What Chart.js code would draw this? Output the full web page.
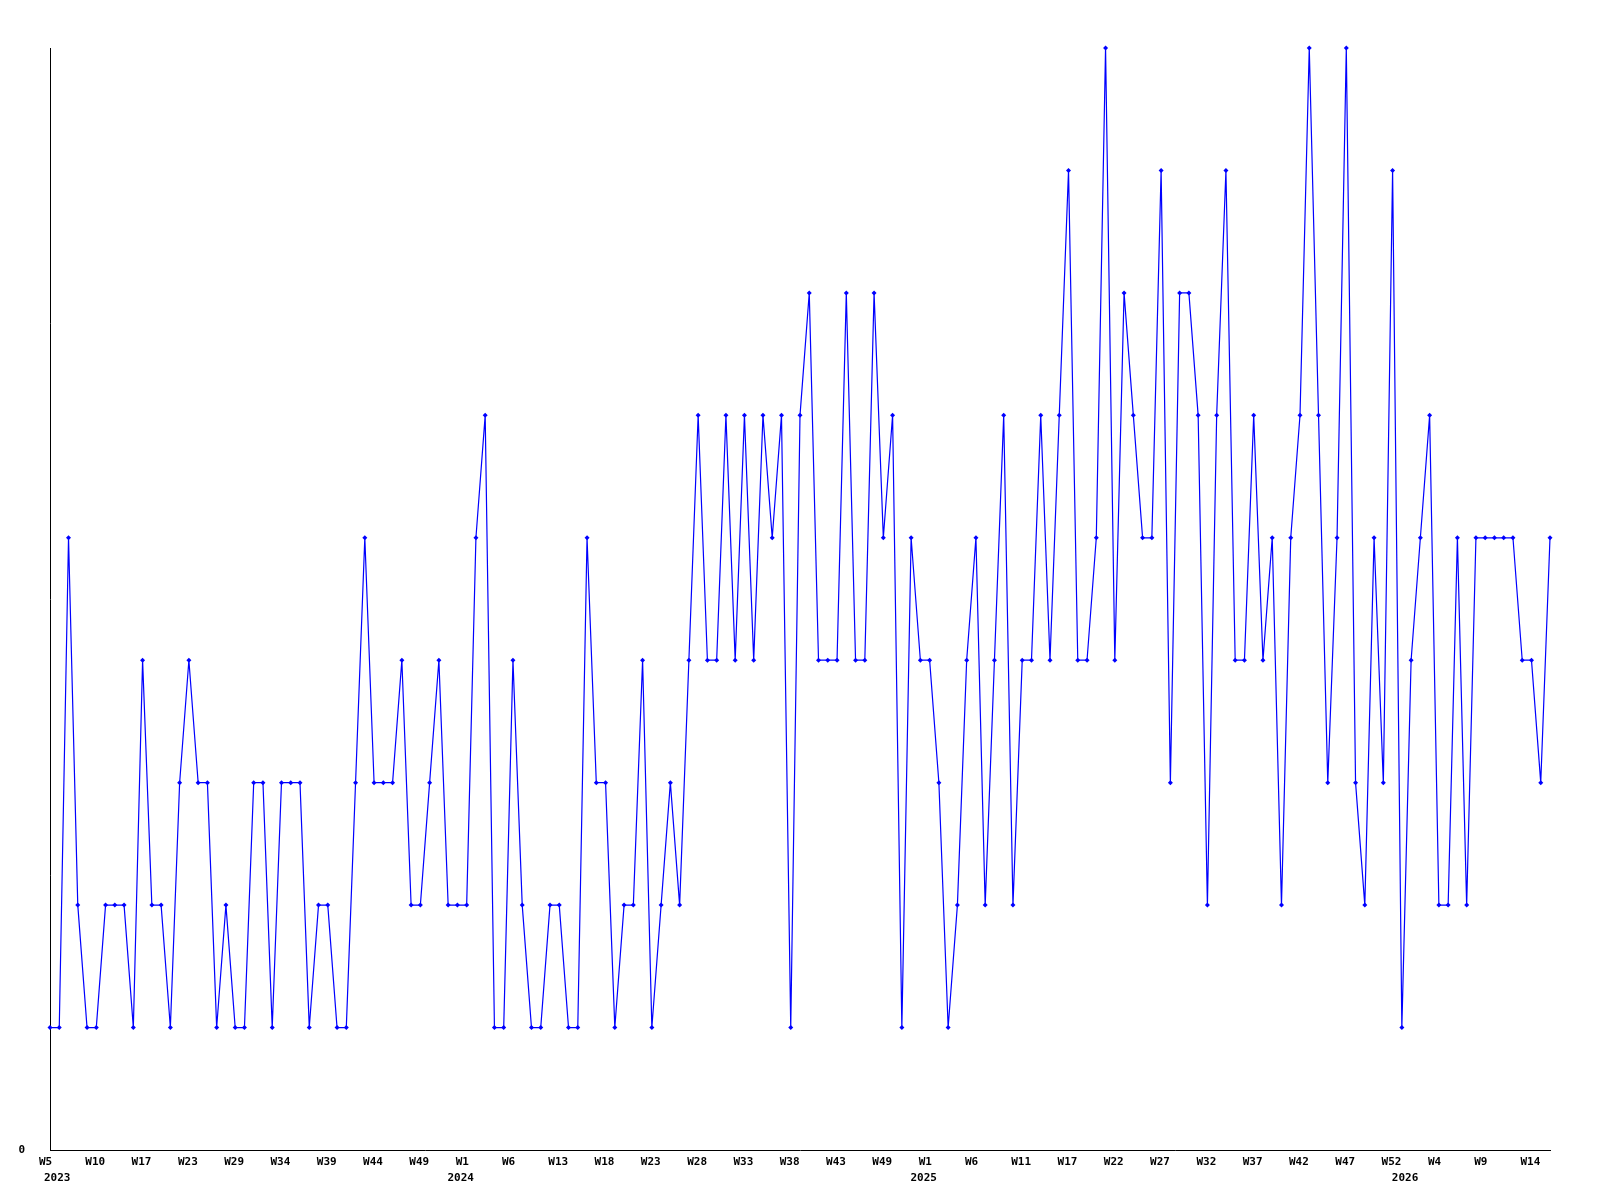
<!DOCTYPE html>
<html>
<head>
<meta charset="utf-8">
<title>Histórico semanal</title>
<script src="https://cdn.jsdelivr.net/npm/chart.js@4.4.0/dist/chart.umd.min.js"></script>
<style>
  body { margin: 0; background: #fff; }
  #contenedor { width: 1600px; height: 1200px; }
</style>
</head>
<body>
<div id="contenedor"><canvas id="grafico" width="1600" height="1200"></canvas></div>
<script>
// Semanas con dato en cada año (algunas semanas no tienen registro)
const semanas2023 = [5, 6, 7, 8, 9, 10, 11, 12, 14, 15, 17, 18, 19, 20, 22, 23, 24, 25, 26, 28, 29,
    30, 31, 32, 33, 34, 35, 36, 37, 38, 39, 40, 41, 42, 43, 44, 45, 46, 47, 48, 49, 50, 51, 52, 53];
const semanas2024 = [1, 2, 3, 4, 5, 6, 7, 8, 10, 11, 13, 14, 15, 16, 17, 18, 19, 20, 21, 22, 23,
    24, 25, 26, 27, 28, 29, 30, 31, 32, 33, 34, 35, 36, 37, 38, 39, 40, 41, 42, 43,
    44, 45, 46, 48, 49, 50, 51, 52, 53];
const semanas2025 = [1, 2, 3, 4, 5, 6, 7, 8, 9, 10, 11, 12, 13, 14, 16, 17, 18, 19, 20, 21, 22,
    23, 24, 25, 26, 27, 28, 29, 30, 31, 32, 33, 34, 35, 36, 37, 38, 39, 40, 41, 42,
    43, 44, 45, 46, 47, 48, 49, 50, 51, 52, 53];
const semanas2026 = [1, 2, 3, 4, 5, 6, 7, 8, 9, 10, 11, 12, 13, 14, 15, 16];
const anios = ['2023', '2024', '2025', '2026'];

// Valor de cada semana, en el mismo orden
const valores = [
    1, 1, 5, 2, 1, 1, 2, 2, 2, 1, 4, 2, 2, 1, 3, 4, 3, 3, 1, 2,
    1, 1, 3, 3, 1, 3, 3, 3, 1, 2, 2, 1, 1, 3, 5, 3, 3, 3, 4, 2,
    2, 3, 4, 2, 2, 2, 5, 6, 1, 1, 4, 2, 1, 1, 2, 2, 1, 1, 5, 3,
    3, 1, 2, 2, 4, 1, 2, 3, 2, 4, 6, 4, 4, 6, 4, 6, 4, 6, 5, 6,
    1, 6, 7, 4, 4, 4, 7, 4, 4, 7, 5, 6, 1, 5, 4, 4, 3, 1, 2, 4,
    5, 2, 4, 6, 2, 4, 4, 6, 4, 6, 8, 4, 4, 5, 9, 4, 7, 6, 5, 5,
    8, 3, 7, 7, 6, 2, 6, 8, 4, 4, 6, 4, 5, 2, 5, 6, 9, 6, 3, 5,
    9, 3, 2, 5, 3, 8, 1, 4, 5, 6, 2, 2, 5, 2, 5, 5, 5, 5, 5, 4,
    4, 3, 5
];

const FUENTE = { family: '"DejaVu Sans Mono", monospace', size: 11, weight: 'bold' };

// Etiquetas "Wn" y año en el primer punto de cada año
const etiquetas = [];
const inicioAnio = {};
[semanas2023, semanas2024, semanas2025, semanas2026].forEach((lista, n) => {
    inicioAnio[etiquetas.length] = anios[n];
    lista.forEach(s => etiquetas.push('W' + s));
});

new Chart(document.getElementById('grafico'), {
    type: 'line',
    data: {
        labels: etiquetas,
        datasets: [{
            data: valores,
            borderColor: '#0000ff',
            backgroundColor: '#0000ff',
            borderWidth: 1.2,
            tension: 0,
            pointStyle: 'rectRot',
            pointRadius: 2.5,
            pointBorderWidth: 0,
            clip: false
        }]
    },
    options: {
        responsive: false,
        animation: false,
        layout: { padding: { top: 48, right: 50, bottom: 14, left: 0 } },
        plugins: { legend: { display: false }, tooltip: { enabled: false } },
        scales: {
            x: {
                type: 'category',
                position: 'bottom',
                weight: 0,
                grid: { display: false, drawTicks: false },
                border: { display: true, color: '#000', width: 1 },
                ticks: {
                    autoSkip: false, maxRotation: 0, minRotation: 0,
                    align: 'start', labelOffset: -11, padding: 6,
                    color: '#000', font: FUENTE,
                    callback: (v, i) => i % 5 === 0 ? etiquetas[i] : ''
                },
                afterFit: (eje) => { eje.height = 16; }
            },
            x2: {
                type: 'category',
                position: 'bottom',
                weight: 1,
                grid: { display: false, drawTicks: false },
                border: { display: false },
                ticks: {
                    autoSkip: false, maxRotation: 0, minRotation: 0,
                    align: 'inner', labelOffset: -6, padding: 6,
                    color: '#000', font: FUENTE,
                    callback: (v, i) => inicioAnio[i] || ''
                },
                afterFit: (eje) => { eje.height = 20; }
            },
            y: {
                min: 0,
                max: 9,
                grid: { display: false, drawTicks: false },
                border: { display: true, color: '#000', width: 1 },
                ticks: {
                    stepSize: 1, padding: 25,
                    color: '#000', font: FUENTE,
                    callback: (v) => v === 0 ? '0' : ''
                },
                afterFit: (eje) => { eje.width = 50; }
            }
        }
    }
});
</script>
</body>
</html>
